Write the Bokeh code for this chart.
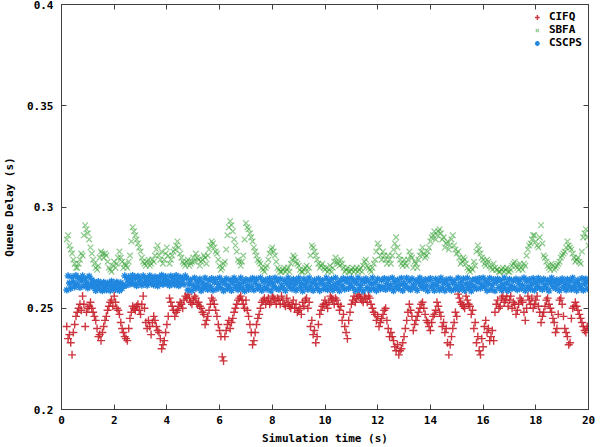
import numpy as np
from bokeh.plotting import figure
from bokeh.models import (LinearAxis, FixedTicker, Range1d, Legend, LegendItem,
                          CustomLabelingPolicy)
from bokeh.embed import file_html
from bokeh.resources import INLINE

# sampling grids (s)
t_start = 0.2          # first sample on the tenths grid
t_between_start = 0.25 # first sample between tenths
t_step = 0.1
cscps_step = 0.05

# CIFQ queue delay (s) at 0.2, 0.3, ... 20.0 s
cifq_at_tenths = [
    0.241, 0.237, 0.227, 0.242, 0.248, 0.252, 0.256, 0.241, 0.250, 0.253,
    0.248, 0.244, 0.236, 0.234, 0.241, 0.246, 0.251, 0.254, 0.256, 0.250,
    0.247, 0.240, 0.236, 0.234, 0.245, 0.251, 0.249, 0.252, 0.247, 0.256,
    0.243, 0.244, 0.237, 0.246, 0.241, 0.238, 0.230, 0.234, 0.242, 0.255,
    0.251, 0.246, 0.249, 0.253, 0.250, 0.256, 0.257, 0.253, 0.254,
    0.255, 0.253, 0.250, 0.247, 0.244, 0.249, 0.255, 0.252, 0.246, 0.239,
    0.226, 0.236, 0.242, 0.240, 0.245, 0.250, 0.254, 0.256, 0.252, 0.254,
    0.246, 0.238, 0.234, 0.242, 0.247, 0.253, 0.255, 0.254, 0.252, 0.256,
    0.254, 0.255, 0.252, 0.254, 0.251, 0.253, 0.250, 0.254, 0.252, 0.249,
    0.247, 0.251, 0.255, 0.253, 0.244, 0.239, 0.236, 0.247, 0.251, 0.254,
    0.250, 0.256, 0.254, 0.255, 0.252, 0.251, 0.247, 0.238, 0.244, 0.252,
    0.256, 0.255, 0.257, 0.254, 0.256, 0.253, 0.255, 0.250, 0.247, 0.246,
    0.243, 0.247, 0.250, 0.240, 0.238, 0.234, 0.229, 0.227, 0.230, 0.236,
    0.244, 0.252, 0.246, 0.242, 0.246, 0.250, 0.253, 0.247, 0.243, 0.239,
    0.246, 0.249, 0.251, 0.246, 0.243, 0.240, 0.227, 0.236, 0.243, 0.246,
    0.255, 0.252, 0.250, 0.254, 0.251, 0.249, 0.243, 0.236, 0.227, 0.231,
    0.244, 0.240, 0.236, 0.234, 0.252, 0.250, 0.255, 0.253, 0.256, 0.254,
    0.250, 0.252, 0.249, 0.255, 0.253, 0.244, 0.256, 0.252, 0.250, 0.254,
    0.251, 0.243, 0.248, 0.254, 0.252, 0.248, 0.243, 0.240, 0.254, 0.252,
    0.240, 0.236, 0.233, 0.250, 0.253, 0.249, 0.245, 0.241, 0.238, 0.240,
]
# CIFQ queue delay (s) at 0.25, 0.35, ... 19.95 s
cifq_between = [
    0.235, 0.233, 0.238, 0.246, 0.250, 0.249, 0.252, 0.248, 0.251, 0.250,
    0.246, 0.240, 0.237, 0.238, 0.244, 0.249, 0.253, 0.251, 0.253, 0.249,
    0.243, 0.238, 0.235, 0.240, 0.248, 0.250, 0.251, 0.249, 0.252, 0.250,
    0.240, 0.241, 0.243, 0.244, 0.239, 0.235, 0.232, 0.238, 0.246, 0.253,
    0.249, 0.248, 0.251, 0.252, 0.254, 0.255, 0.255, 0.252,
    0.256, 0.252, 0.251, 0.248, 0.242, 0.246, 0.252, 0.254, 0.249, 0.242,
    0.236, 0.224, 0.239, 0.244, 0.243, 0.248, 0.252, 0.255, 0.254, 0.250,
    0.249, 0.242, 0.232, 0.238, 0.245, 0.250, 0.254, 0.252, 0.255, 0.253,
    0.255, 0.252, 0.254, 0.256, 0.252, 0.255, 0.251, 0.252, 0.250, 0.248,
    0.250, 0.253, 0.254, 0.250, 0.241, 0.237, 0.233, 0.242, 0.249, 0.252,
    0.252, 0.253, 0.255, 0.252, 0.254, 0.249, 0.244, 0.241, 0.235, 0.248,
    0.254, 0.253, 0.256, 0.255, 0.253, 0.255, 0.256, 0.252, 0.248, 0.244,
    0.241, 0.245, 0.249, 0.244, 0.236, 0.236, 0.231, 0.232, 0.229, 0.233,
    0.240, 0.248, 0.249, 0.239, 0.244, 0.248, 0.252, 0.250, 0.244, 0.241,
    0.243, 0.247, 0.253, 0.248, 0.241, 0.238, 0.233, 0.232, 0.240, 0.248,
    0.257, 0.253, 0.251, 0.256, 0.252, 0.247, 0.240, 0.233, 0.229, 0.235,
    0.241, 0.238, 0.234, 0.239, 0.248, 0.254, 0.251, 0.256, 0.254, 0.251,
    0.256, 0.253, 0.247, 0.252, 0.254, 0.248, 0.250, 0.254, 0.255, 0.252,
    0.256, 0.248, 0.246, 0.251, 0.255, 0.250, 0.245, 0.238, 0.247, 0.255,
    0.246, 0.238, 0.232, 0.245, 0.251, 0.251, 0.247, 0.243, 0.239, 0.241,
]

# SBFA queue delay (s) at 0.2, 0.3, ... 20.0 s
sbfa_at_tenths = [
    0.284, 0.281, 0.277, 0.272, 0.270, 0.274, 0.276, 0.291, 0.287, 0.280,
    0.274, 0.270, 0.271, 0.278, 0.275, 0.276, 0.270, 0.268, 0.273, 0.272,
    0.278, 0.273, 0.272, 0.270, 0.276, 0.290, 0.286, 0.282, 0.278, 0.273,
    0.271, 0.274, 0.272, 0.273, 0.279, 0.276, 0.278, 0.274, 0.280, 0.272,
    0.276, 0.279, 0.283, 0.277, 0.273, 0.271, 0.274, 0.272, 0.275,
    0.277, 0.274, 0.273, 0.276, 0.272, 0.279, 0.283, 0.280, 0.277, 0.271,
    0.270, 0.273, 0.286, 0.293, 0.288, 0.281, 0.274, 0.271, 0.276, 0.292,
    0.289, 0.285, 0.280, 0.276, 0.273, 0.270, 0.268, 0.271, 0.277, 0.280,
    0.276, 0.270, 0.268, 0.269, 0.268, 0.270, 0.272, 0.276, 0.273, 0.271,
    0.268, 0.269, 0.271, 0.270, 0.281, 0.278, 0.274, 0.270, 0.272, 0.269,
    0.268, 0.271, 0.270, 0.275, 0.272, 0.274, 0.270, 0.269, 0.268, 0.269,
    0.268, 0.270, 0.269, 0.268, 0.273, 0.271, 0.269, 0.270, 0.274, 0.282,
    0.276, 0.278, 0.274, 0.276, 0.272, 0.279, 0.285, 0.276, 0.272, 0.274,
    0.271, 0.278, 0.275, 0.273, 0.270, 0.276, 0.280, 0.275, 0.278, 0.283,
    0.286, 0.284, 0.288, 0.287, 0.285, 0.282, 0.279, 0.284, 0.281, 0.277,
    0.275, 0.273, 0.274, 0.270, 0.268, 0.269, 0.271, 0.281, 0.277, 0.274,
    0.271, 0.273, 0.270, 0.272, 0.269, 0.268, 0.269, 0.268, 0.270, 0.268,
    0.271, 0.273, 0.270, 0.272, 0.269, 0.271, 0.279, 0.282, 0.286, 0.283,
    0.280, 0.291, 0.276, 0.273, 0.270, 0.272, 0.269, 0.271, 0.273, 0.276,
    0.278, 0.283, 0.280, 0.277, 0.273, 0.275, 0.272, 0.285, 0.289, 0.281,
]
# SBFA queue delay (s) at 0.25, 0.35, ... 19.95 s
sbfa_between = [
    0.286, 0.279, 0.274, 0.270, 0.272, 0.277, 0.286, 0.289, 0.284, 0.277,
    0.272, 0.269, 0.275, 0.277, 0.277, 0.273, 0.269, 0.271, 0.270, 0.275,
    0.275, 0.270, 0.271, 0.273, 0.283, 0.288, 0.284, 0.280, 0.275, 0.272,
    0.273, 0.271, 0.274, 0.276, 0.281, 0.274, 0.272, 0.277, 0.276, 0.274,
    0.278, 0.281, 0.280, 0.275, 0.272, 0.273, 0.271, 0.273,
    0.273, 0.275, 0.271, 0.274, 0.275, 0.276, 0.281, 0.282, 0.278, 0.274,
    0.269, 0.272, 0.279, 0.290, 0.291, 0.284, 0.278, 0.273, 0.273, 0.284,
    0.290, 0.287, 0.283, 0.278, 0.274, 0.272, 0.269, 0.270, 0.274, 0.279,
    0.278, 0.273, 0.269, 0.268, 0.270, 0.269, 0.268, 0.274, 0.275, 0.272,
    0.269, 0.268, 0.270, 0.268, 0.276, 0.280, 0.276, 0.272, 0.271, 0.270,
    0.270, 0.269, 0.268, 0.273, 0.273, 0.271, 0.272, 0.268, 0.270, 0.268,
    0.270, 0.269, 0.268, 0.270, 0.271, 0.274, 0.270, 0.268, 0.272, 0.278,
    0.280, 0.274, 0.276, 0.272, 0.274, 0.276, 0.282, 0.280, 0.274, 0.271,
    0.272, 0.274, 0.276, 0.270, 0.272, 0.274, 0.278, 0.277, 0.276, 0.280,
    0.285, 0.288, 0.286, 0.289, 0.284, 0.280, 0.283, 0.281, 0.286, 0.279,
    0.278, 0.272, 0.275, 0.272, 0.269, 0.270, 0.273, 0.278, 0.279, 0.275,
    0.272, 0.274, 0.271, 0.269, 0.270, 0.269, 0.268, 0.270, 0.269, 0.268,
    0.269, 0.272, 0.271, 0.269, 0.270, 0.272, 0.276, 0.281, 0.284, 0.286,
    0.281, 0.285, 0.282, 0.275, 0.271, 0.269, 0.271, 0.270, 0.272, 0.275,
    0.277, 0.280, 0.281, 0.279, 0.275, 0.274, 0.273, 0.278, 0.287, 0.285,
]

# CSCPS queue delay (units of 0.1 ms), one value every 0.05 s from 0.2 s
cscps_e4 = [
    2590, 2660, 2625, 2598, 2655, 2630, 2605, 2662, 2618, 2648,
    2602, 2635, 2660, 2610, 2645, 2625, 2600, 2658, 2615, 2640, 2605,
    2630, 2588, 2610, 2632, 2595, 2620, 2586, 2628, 2605, 2590,
    2625, 2612, 2587, 2633, 2600, 2618, 2592, 2630, 2608, 2588, 2626, 2598, 2615,
    2660, 2612, 2640, 2655, 2618, 2635, 2662, 2620, 2648, 2611,
    2658, 2630, 2645, 2614, 2660, 2625, 2650, 2613, 2638, 2661,
    2622, 2646, 2615, 2656, 2632, 2610, 2652, 2628, 2663, 2617,
    2642, 2657, 2621, 2636, 2612, 2659, 2627, 2649, 2616, 2662,
    2633, 2611, 2654, 2624, 2644, 2618, 2660,
    2648, 2590, 2620, 2640, 2587, 2612, 2650, 2598, 2630, 2605,
    2645, 2586, 2625, 2600, 2649, 2615, 2592, 2638, 2608, 2647,
    2589, 2628, 2643, 2595, 2618, 2650, 2602, 2633, 2586, 2622,
    2646, 2596, 2610, 2640, 2588, 2627, 2649, 2604, 2635, 2591,
    2617, 2650, 2599, 2629, 2585, 2642, 2613, 2593, 2637, 2607,
    2648, 2590, 2624, 2644, 2597, 2611, 2650, 2588, 2632, 2603,
    2641, 2594, 2619, 2647, 2586, 2626, 2609, 2650, 2598, 2634,
    2592, 2645, 2614, 2601, 2639, 2587, 2623, 2649, 2606, 2630,
    2595, 2643, 2616, 2589, 2636, 2648, 2602, 2621, 2585, 2644,
    2610, 2631, 2593, 2650, 2605, 2627, 2588, 2640, 2618, 2599,
    2646, 2587, 2622, 2637, 2596, 2613, 2649, 2591, 2628, 2606,
    2643, 2589, 2617, 2650, 2600, 2625, 2586, 2639, 2611, 2647,
    2594, 2632, 2645, 2598, 2620, 2648, 2603, 2636, 2588, 2624,
    2649, 2593, 2612, 2641, 2585, 2629, 2646, 2601, 2634, 2590,
    2619, 2650, 2597, 2626, 2587, 2644, 2609, 2595, 2638, 2604,
    2647, 2592, 2621, 2643, 2599, 2614, 2650, 2586, 2631, 2607,
    2640, 2596, 2618, 2648, 2588, 2623, 2611, 2649, 2600, 2635,
    2591, 2646, 2615, 2603, 2637, 2589, 2627, 2650, 2608, 2629,
    2597, 2642, 2613, 2586, 2639, 2647, 2605, 2620, 2588, 2645,
    2612, 2633, 2590, 2649, 2602, 2628, 2587, 2641, 2616, 2598,
    2644, 2589, 2624, 2636, 2594, 2610, 2650, 2593, 2626, 2604,
    2646, 2588, 2619, 2648, 2601, 2622, 2585, 2640, 2609, 2643,
    2596, 2630, 2647, 2599, 2617, 2650, 2606, 2634, 2587, 2621,
    2648, 2592, 2614, 2642, 2586, 2628, 2645, 2603, 2637, 2589,
    2616, 2649, 2595, 2625, 2588, 2643, 2610, 2597, 2636, 2602,
    2645, 2591, 2623, 2641, 2598, 2612, 2650, 2587, 2633, 2605,
    2642, 2594, 2620, 2647, 2589, 2627, 2608, 2648, 2599, 2632,
    2593, 2644, 2616, 2600, 2638, 2586, 2624, 2649, 2607, 2631,
    2598, 2641, 2618, 2588, 2635, 2646, 2604, 2622, 2590, 2643,
    2611, 2634, 2592, 2650, 2606, 2626, 2587, 2639, 2615, 2600,
    2647, 2589, 2621, 2644, 2596, 2630,
]

series_names = ["CIFQ", "SBFA", "CSCPS"]
x_ticks = [0, 2, 4, 6, 8, 10, 12, 14, 16, 18, 20]
y_ticks = [0.2, 0.25, 0.3, 0.35, 0.4]
y_tick_labels = ["0.2", "0.25", "0.3", "0.35", "0.4"]

t_a = np.round(t_start + t_step * np.arange(len(cifq_at_tenths)), 3)
t_b = np.round(t_between_start + t_step * np.arange(len(cifq_between)), 3)
t_main = np.concatenate([t_a, t_b])
cifq = np.concatenate([cifq_at_tenths, cifq_between])
sbfa = np.concatenate([sbfa_at_tenths, sbfa_between])
t_cscps = np.round(t_start + cscps_step * np.arange(len(cscps_e4)), 3)
cscps = np.array(cscps_e4) / 10000.0

FONT = "DejaVu Sans Mono"
AX = "#404040"

p = figure(width=600, height=447, x_range=Range1d(0, 20), y_range=Range1d(0.2, 0.4),
           output_backend="svg", toolbar_location=None,
           min_border_left=60, min_border_right=12, min_border_top=4, min_border_bottom=37)
p.grid.visible = False
p.outline_line_color = AX
p.background_fill_color = "white"
p.border_fill_color = "white"

for ax in (p.xaxis[0], p.yaxis[0]):
    ax.major_tick_in = 5
    ax.major_tick_out = 0
    ax.minor_tick_line_color = None
    ax.axis_line_color = AX
    ax.major_tick_line_color = AX
    ax.major_label_text_font = FONT
    ax.major_label_text_font_style = "bold"
    ax.major_label_text_font_size = "11px"
    ax.major_label_text_color = "black"
    ax.axis_label_text_font = FONT
    ax.axis_label_text_font_style = "bold"
    ax.axis_label_text_font_size = "11px"
    ax.axis_label_text_color = "black"

p.xaxis.ticker = FixedTicker(ticks=x_ticks)
p.yaxis.ticker = FixedTicker(ticks=y_ticks)
p.yaxis.major_label_overrides = dict(zip(y_ticks, y_tick_labels))
p.xaxis.axis_label = "Simulation time (s)"
p.yaxis.axis_label = "Queue Delay (s)"
p.xaxis.major_label_standoff = 6
p.xaxis.axis_label_standoff = 5
p.yaxis.major_label_standoff = 8
p.yaxis.axis_label_standoff = 8

no_labels = CustomLabelingPolicy(code="return []")
top = LinearAxis(ticker=FixedTicker(ticks=x_ticks), major_label_policy=no_labels,
                 major_label_text_font_size="1px", axis_label_standoff=0,
                 major_label_standoff=0, major_tick_in=5, major_tick_out=0,
                 minor_tick_line_color=None, axis_line_color=AX, major_tick_line_color=AX)
right = LinearAxis(ticker=FixedTicker(ticks=y_ticks), major_label_policy=no_labels,
                   major_label_text_font_size="1px", axis_label_standoff=0,
                   major_label_standoff=0, major_tick_in=5, major_tick_out=0,
                   minor_tick_line_color=None, axis_line_color=AX, major_tick_line_color=AX)
p.add_layout(top, "above")
p.add_layout(right, "right")

r1 = p.scatter(t_main, cifq, marker="cross", size=8, line_color="#c8202a",
               line_width=1.4, line_alpha=0.9)
r2 = p.scatter(t_main, sbfa, marker="x", size=8, line_color="#2e9e2e",
               line_width=1.2, line_alpha=0.55)
r3 = p.scatter(t_cscps, cscps, marker="asterisk", size=7, line_color="#1f87e0",
               line_width=1.4)

legend = Legend(items=[LegendItem(label=series_names[0], renderers=[r1]),
                       LegendItem(label=series_names[1], renderers=[r2]),
                       LegendItem(label=series_names[2], renderers=[r3])],
                location="top_right", border_line_color=None, background_fill_alpha=0,
                label_text_font=FONT, label_text_font_style="bold",
                label_text_font_size="11px", label_text_color="black",
                spacing=0, padding=2, glyph_height=12, glyph_width=14,
                label_height=12, margin=6)
p.add_layout(legend)

open("out.html", "w").write(file_html(p, INLINE))
